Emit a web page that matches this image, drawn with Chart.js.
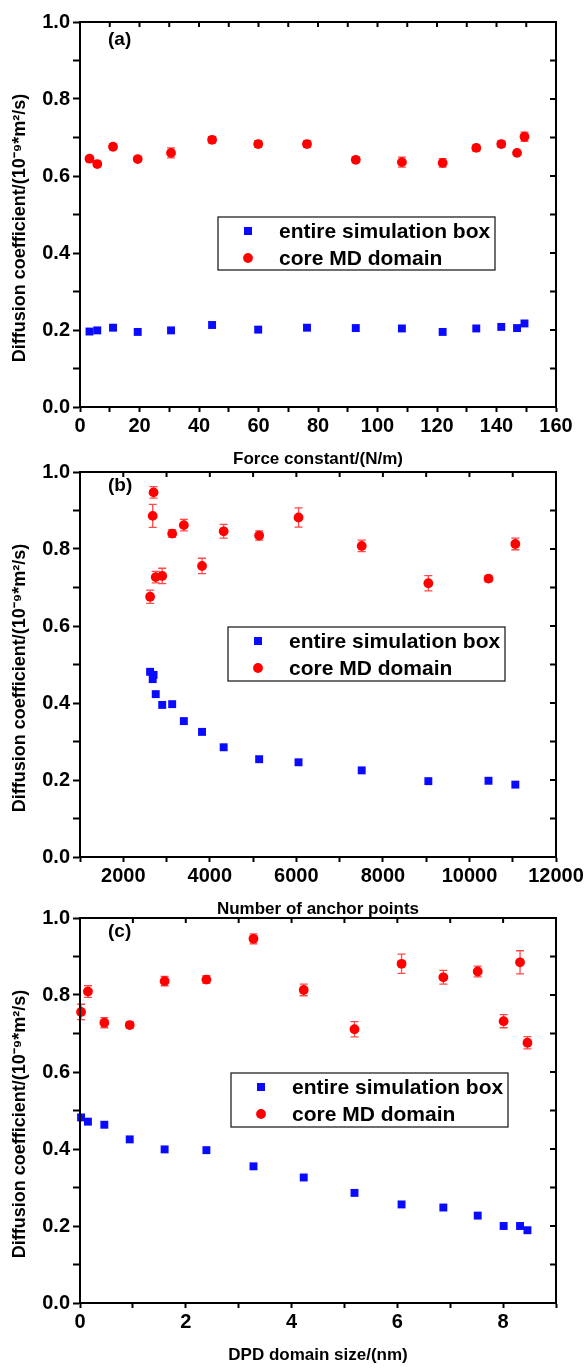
<!DOCTYPE html>
<html>
<head>
<meta charset="utf-8">
<script src="https://cdn.jsdelivr.net/npm/chart.js@4.4.0/dist/chart.umd.min.js"></script>
<style>
    html, body { margin: 0; padding: 0; background: #fff; }
    #page { position: relative; width: 587px; height: 1368px; overflow: hidden; }
    #page canvas { position: absolute; left: 0; }
</style>
</head>
<body>
<div id="page">
    <canvas id="chartA" width="587" height="472" style="top:0px"></canvas>
    <canvas id="chartB" width="587" height="472" style="top:450px"></canvas>
    <canvas id="chartC" width="587" height="472" style="top:896px"></canvas>
</div>
<script>
// (a) force constant
const forceConst = [3.2, 5.8, 11.1, 19.4, 30.6, 44.4, 59.9, 76.3, 92.7, 108.2, 121.9, 133.2, 141.6, 146.9, 149.4];
const forceBox = [0.196, 0.199, 0.206, 0.195, 0.199, 0.213, 0.201, 0.206, 0.205, 0.204, 0.195, 0.204, 0.208, 0.205, 0.217];
const forceCore = [0.645, 0.631, 0.676, 0.644, 0.660, 0.694, 0.683, 0.683, 0.642, 0.636, 0.634, 0.673, 0.683, 0.660, 0.702];
const forceCoreErr = [0.005, 0.005, 0.007, 0.005, 0.013, 0.008, 0.008, 0.008, 0.006, 0.013, 0.011, 0.008, 0.008, 0.005, 0.012];

// (b) anchor points
const anchorPts = [2620, 2680, 2700, 2750, 2900, 3130, 3400, 3820, 4320, 5140, 6050, 7510, 9050, 10440, 11060];
const anchorBox = [0.481, 0.462, 0.473, 0.423, 0.395, 0.397, 0.353, 0.325, 0.285, 0.254, 0.246, 0.225, 0.197, 0.198, 0.188];
const anchorCore = [0.676, 0.886, 0.947, 0.727, 0.730, 0.840, 0.862, 0.756, 0.846, 0.835, 0.882, 0.808, 0.711, 0.723, 0.813];
const anchorCoreErr = [0.017, 0.030, 0.015, 0.015, 0.020, 0.010, 0.015, 0.020, 0.018, 0.012, 0.025, 0.015, 0.020, 0.008, 0.015];

// (c) DPD domain size
const dpdSize = [0.02, 0.15, 0.46, 0.94, 1.60, 2.39, 3.28, 4.23, 5.19, 6.08, 6.87, 7.52, 8.01, 8.32, 8.46];
const dpdBox = [0.482, 0.471, 0.463, 0.425, 0.399, 0.397, 0.355, 0.326, 0.286, 0.256, 0.248, 0.227, 0.200, 0.200, 0.189];
const dpdCore = [0.756, 0.809, 0.728, 0.722, 0.836, 0.840, 0.946, 0.813, 0.711, 0.881, 0.846, 0.861, 0.732, 0.885, 0.676];
const dpdCoreErr = [0.020, 0.015, 0.013, 0.008, 0.012, 0.010, 0.013, 0.015, 0.020, 0.025, 0.018, 0.014, 0.017, 0.030, 0.016];

const seriesLabels = ['entire simulation box', 'core MD domain'];
const yTitle = 'Diffusion coefficient/(10\u207B\u2079*m\u00B2/s)';

const FONT = "'Liberation Sans', Arial, Helvetica, sans-serif";
const BLUE = '#0a0aff';
const RED = '#ff0000';
const ERR_RED = '#ff4a4a';

const toPoints = (xs, ys) => xs.map((x, i) => ({ x: x, y: ys[i] }));

// vertical error bars, drawn under the markers
const errorBars = {
    id: 'errorBars',
    beforeDatasetsDraw(chart) {
        const { ctx, scales: { x, y } } = chart;
        chart.data.datasets.forEach(ds => {
            if (!ds.errors) return;
            ctx.save();
            ctx.strokeStyle = ERR_RED;
            ctx.lineWidth = 1.3;
            ds.data.forEach((p, i) => {
                const e = ds.errors[i];
                const px = x.getPixelForValue(p.x);
                const top = y.getPixelForValue(p.y + e);
                const bot = y.getPixelForValue(p.y - e);
                ctx.beginPath();
                ctx.moveTo(px, top); ctx.lineTo(px, bot);
                ctx.moveTo(px - 4, top); ctx.lineTo(px + 4, top);
                ctx.moveTo(px - 4, bot); ctx.lineTo(px + 4, bot);
                ctx.stroke();
            });
            ctx.restore();
        });
    }
};

// frame, inward ticks on top/right, panel tag and boxed legend
const panelDecor = {
    id: 'panelDecor',
    afterDraw(chart, args, opts) {
        const { ctx, chartArea: a, scales: { x, y } } = chart;
        ctx.save();
        ctx.strokeStyle = '#000';
        ctx.lineWidth = 2;
        ctx.strokeRect(a.left, a.top, a.right - a.left, a.bottom - a.top);

        ctx.beginPath();
        x.ticks.forEach(t => {
            const px = x.getPixelForValue(t.value);
            ctx.moveTo(px, a.top); ctx.lineTo(px, a.top + 5);
        });
        y.ticks.forEach(t => {
            const py = y.getPixelForValue(t.value);
            ctx.moveTo(a.right, py); ctx.lineTo(a.right - 6, py);
        });
        ctx.stroke();

        ctx.fillStyle = '#000';
        ctx.font = 'bold 19px ' + FONT;
        ctx.textBaseline = 'middle';
        ctx.textAlign = 'left';
        ctx.fillText(opts.tag, a.left + 28, a.top + opts.tagDy);

        const lb = opts.legendBox;
        const bx = a.left + lb.dx;
        const by = a.top + lb.dy;
        ctx.lineWidth = 1.3;
        ctx.strokeStyle = '#222';
        ctx.strokeRect(bx, by, lb.w, lb.h);
        ctx.font = 'bold 21px ' + FONT;
        chart.data.datasets.forEach((ds, i) => {
            const ry = by + 14 + i * 27;
            const mx = bx + 30;
            ctx.fillStyle = ds.backgroundColor;
            ctx.beginPath();
            if (ds.pointStyle === 'rect') {
                ctx.rect(mx - 4, ry - 4, 8, 8);
            } else {
                ctx.arc(mx, ry, ds.pointRadius, 0, Math.PI * 2);
            }
            ctx.fill();
            ctx.fillStyle = '#000';
            ctx.fillText(ds.label, bx + 61, ry + 1);
        });
        ctx.restore();
    }
};

function makePanel(id, cfg) {
    const canvas = document.getElementById(id);
    const tickFont = { family: FONT, size: 20, weight: 'bold' };
    return new Chart(canvas, {
        type: 'scatter',
        data: {
            datasets: [{
                label: seriesLabels[0],
                data: toPoints(cfg.xs, cfg.box),
                pointStyle: 'rect',
                pointRadius: 5.6,
                pointBorderWidth: 0,
                backgroundColor: BLUE,
                borderColor: BLUE,
                clip: false
            }, {
                label: seriesLabels[1],
                data: toPoints(cfg.xs, cfg.core),
                errors: cfg.coreErr,
                pointStyle: 'circle',
                pointRadius: 4.9,
                pointBorderWidth: 0,
                backgroundColor: RED,
                borderColor: RED,
                clip: false
            }]
        },
        options: {
            responsive: false,
            animation: false,
            layout: { padding: { left: 0, right: 31, top: 22, bottom: 0 } },
            plugins: {
                legend: { display: false },
                tooltip: { enabled: false },
                panelDecor: { tag: cfg.tag, tagDy: cfg.tagDy, legendBox: cfg.legendBox }
            },
            scales: {
                x: {
                    type: 'linear',
                    min: cfg.xMin,
                    max: cfg.xMax,
                    ticks: {
                        stepSize: cfg.xStep,
                        autoSkip: false,
                        maxRotation: 0,
                        padding: 2,
                        color: '#000',
                        font: tickFont,
                        callback: v => (v % cfg.xMajor === 0 ? String(v) : '')
                    },
                    grid: { drawOnChartArea: false, drawTicks: true, tickLength: 5, tickWidth: 2, tickColor: '#000' },
                    border: { display: true, color: '#000', width: 2 },
                    title: {
                        display: true,
                        text: cfg.xTitle,
                        color: '#000',
                        font: { family: FONT, size: 17, weight: 'bold' },
                        padding: { top: 0, bottom: 2 }
                    },
                    afterFit: s => { s.height = 65; }
                },
                y: {
                    min: 0,
                    max: 1,
                    ticks: {
                        stepSize: 0.1,
                        autoSkip: false,
                        padding: 3,
                        color: '#000',
                        font: tickFont,
                        callback: v => (Math.round(v * 10) % 2 === 0 ? v.toFixed(1) : '')
                    },
                    grid: { drawOnChartArea: false, drawTicks: true, tickLength: 7, tickWidth: 2, tickColor: '#000' },
                    border: { display: true, color: '#000', width: 2 },
                    title: {
                        display: true,
                        // en spaces push the visible text a little below centre
                        text: yTitle + '\u2002\u2002\u2002',
                        color: '#000',
                        font: { family: FONT, size: 18, weight: 'bold' },
                        padding: { top: 9, bottom: 0 }
                    },
                    afterFit: s => { s.width = 80; }
                }
            }
        },
        plugins: [errorBars, panelDecor]
    });
}

makePanel('chartA', {
    xs: forceConst, box: forceBox, core: forceCore, coreErr: forceCoreErr,
    xMin: 0, xMax: 160, xStep: 10, xMajor: 20,
    xTitle: 'Force constant/(N/m)',
    tag: '(a)', tagDy: 18,
    legendBox: { dx: 138, dy: 195, w: 277, h: 53 }
});

makePanel('chartB', {
    xs: anchorPts, box: anchorBox, core: anchorCore, coreErr: anchorCoreErr,
    xMin: 1000, xMax: 12000, xStep: 1000, xMajor: 2000,
    xTitle: 'Number of anchor points',
    tag: '(b)', tagDy: 14,
    legendBox: { dx: 148, dy: 155, w: 277, h: 54 }
});

makePanel('chartC', {
    xs: dpdSize, box: dpdBox, core: dpdCore, coreErr: dpdCoreErr,
    xMin: 0, xMax: 9, xStep: 1, xMajor: 2,
    xTitle: 'DPD domain size/(nm)',
    tag: '(c)', tagDy: 14,
    legendBox: { dx: 151, dy: 155, w: 277, h: 54 }
});
</script>
</body>
</html>
